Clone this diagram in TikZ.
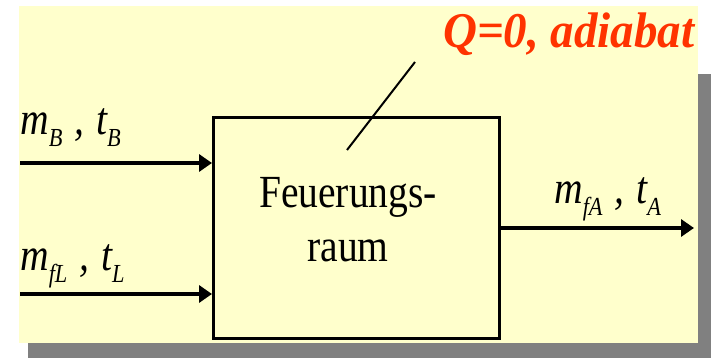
\documentclass[tikz,border=0pt]{standalone}
\usepackage{fontspec}
\setmainfont{Liberation Serif}
\usetikzlibrary{arrows.meta}

\definecolor{paper}{HTML}{FFFFCC}
\definecolor{shadowgray}{HTML}{808080}
\definecolor{heat}{HTML}{FF3300}

\newcommand{\nrw}[2][0.86]{\scalebox{#1}[1]{#2}}
\newcommand{\sub}[1]{\raisebox{-12pt}{\fontsize{26}{26}\selectfont #1}}
\newcommand{\flow}[2]{\nrw{\itshape m\sub{#1}\hspace{0.3em},\hspace{0.3em}t\sub{#2}}}

\begin{document}
\begin{tikzpicture}[x=1pt,y=-1pt,
  big/.style={font=\fontsize{46}{54}\selectfont, inner sep=0pt},
  flowlbl/.style={big, anchor=base west},
  stream/.style={line width=3.5pt, -{Triangle[length=13pt,width=17pt]}}]
  \useasboundingbox (0,0) rectangle (711,358);
  % sheet with shadow
  \fill[shadowgray] (28,74) rectangle (711,358);
  \fill[paper] (19,6) rectangle (698,343);

  \node[draw, line width=3pt, minimum width=286pt, minimum height=221pt, inner sep=0pt] (fr) at (356.5,228) {};
  \node[big] (frtext) at (348,224) {\nrw{\begin{tabular}{@{}c@{}}Feuerungs-\\raum\end{tabular}}};

  \coordinate (bin) at (20,163);
  \coordinate (lin) at (20,294);
  \coordinate (aout) at (694,228);
  \draw[stream] (bin) -- (bin -| fr.west);
  \draw[stream] (lin) -- (lin -| fr.west);
  \draw[stream] (fr.east) -- (aout);

  \node[flowlbl] (blbl) at (20,135) {\flow{B}{B}};
  \node[flowlbl] (llbl) at (20,270) {\flow{fL}{L}};
  \node[flowlbl] (albl) at (554,203) {\flow{fA}{A}};

  % heat flow
  \coordinate (qin) at (347,150);
  \coordinate (qout) at (415,62);
  \draw[line width=2pt] (qin) -- (qout);
  \node[anchor=base west, inner sep=0pt, text=heat, font=\fontsize{50}{50}\selectfont\bfseries\itshape] (qlbl) at (443,48) {\nrw[0.94]{Q=0, adiabat}};
\end{tikzpicture}
\end{document}
